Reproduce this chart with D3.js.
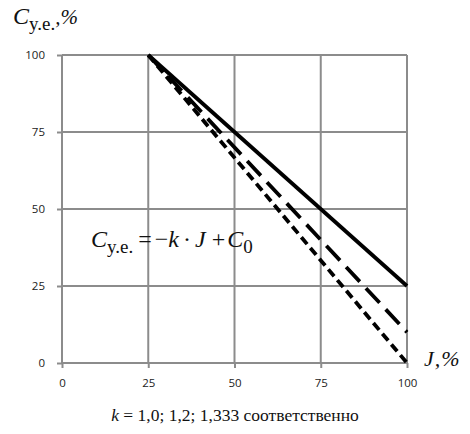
<!DOCTYPE html>
<html>
<head>
<meta charset="utf-8">
<script src="https://cdn.jsdelivr.net/npm/d3@7/dist/d3.min.js"></script>
<style>
  html, body { margin: 0; padding: 0; background: #fff; }
  svg { display: block; }
  .tick text { font-family: "Open Sans", "DejaVu Sans", sans-serif; font-size: 11.5px; fill: #222; }
  .serif { font-family: "Liberation Serif", "Times New Roman", serif; fill: #111; }
</style>
</head>
<body>
<svg id="chart" width="470" height="434"></svg>
<script>
// Tick values for both axes
const xTicks = [0, 25, 50, 75, 100];
const yTicks = [0, 25, 50, 75, 100];

// Lines C = -k·J + C0, each defined by its end points (J, C)
const seriesNames = ["k = 1,0", "k = 1,2", "k = 1,333"];
const seriesJ = [[25, 100], [25, 100], [25, 100]];
const seriesC = [[100, 25], [100, 10], [100, 0]];
const seriesDash = [null, "20 9", "9 5"];

const svg = d3.select("#chart");
const margin = { left: 62, right: 63, top: 55, bottom: 71 };
const W = 470, H = 434;

const x = d3.scaleLinear().domain([0, 100]).range([margin.left, W - margin.right]);
const y = d3.scaleLinear().domain([0, 100]).range([H - margin.bottom, margin.top]);

// Gridlines
const grid = svg.append("g");
grid.selectAll("line.v").data(xTicks).join("line")
  .attr("x1", d => x(d)).attr("x2", d => x(d))
  .attr("y1", y(100)).attr("y2", y(0))
  .attr("stroke", "#8c8c8c").attr("stroke-width", 2);
grid.selectAll("line.h").data(yTicks).join("line")
  .attr("x1", x(0)).attr("x2", x(100))
  .attr("y1", d => y(d)).attr("y2", d => y(d))
  .attr("stroke", "#8c8c8c").attr("stroke-width", 2);

// Axes
const xAxis = svg.append("g").attr("transform", `translate(0,${y(0)})`)
  .call(d3.axisBottom(x).tickValues(xTicks).tickSize(5).tickPadding(11));
const yAxis = svg.append("g").attr("transform", `translate(${x(0)},0)`)
  .call(d3.axisLeft(y).tickValues(yTicks).tickSize(5).tickPadding(12));
[xAxis, yAxis].forEach(a => {
  a.select(".domain").remove();
  a.selectAll(".tick line").attr("stroke", "#8c8c8c").attr("stroke-width", 2);
});

// Lines
const line = d3.line().x(d => x(d[0])).y(d => y(d[1]));
seriesNames.forEach((name, i) => {
  const pts = seriesJ[i].map((j, k) => [j, seriesC[i][k]]);
  svg.append("path")
    .datum(pts)
    .attr("d", line)
    .attr("fill", "none")
    .attr("stroke", "#000")
    .attr("stroke-width", 3.8)
    .attr("stroke-dasharray", seriesDash[i]);
});

// Y axis title: C_y.e.,%
const yt = svg.append("text").attr("class", "serif").attr("x", 13).attr("y", 24);
yt.append("tspan").attr("font-style", "italic").attr("font-size", 24).text("C");
yt.append("tspan").attr("font-size", 19).attr("dy", 6).text("y.e.");
yt.append("tspan").attr("font-size", 21).attr("font-style", "italic").attr("dy", -6).text(",%");

// X axis title: J,%
svg.append("text").attr("class", "serif").attr("x", 424).attr("y", 366)
  .attr("font-size", 22).attr("font-style", "italic").attr("letter-spacing", 1).text("J,%");

// Formula inside the plot
const f = svg.append("text").attr("class", "serif").attr("x", 91).attr("y", 247).attr("font-size", 24);
f.append("tspan").attr("font-style", "italic").text("C");
f.append("tspan").attr("font-size", 19).attr("dy", 6).text("y.e.");
f.append("tspan").attr("dy", -6).attr("dx", 5).text("=");
f.append("tspan").attr("dx", 3).text("\u2212");
f.append("tspan").attr("font-style", "italic").text("k");
f.append("tspan").attr("dx", 4).text("\u00b7");
f.append("tspan").attr("font-style", "italic").attr("dx", 4).text("J");
f.append("tspan").attr("dx", 6).text("+");
f.append("tspan").attr("font-style", "italic").attr("dx", 2).text("C");
f.append("tspan").attr("font-size", 19).attr("dy", 6).text("0");

// Caption
const cap = svg.append("text").attr("class", "serif").attr("x", 235).attr("y", 421)
  .attr("text-anchor", "middle").attr("font-size", 17.5);
cap.append("tspan").attr("font-style", "italic").text("k");
cap.append("tspan").text(" = 1,0; 1,2; 1,333 соответственно");
</script>
</body>
</html>
